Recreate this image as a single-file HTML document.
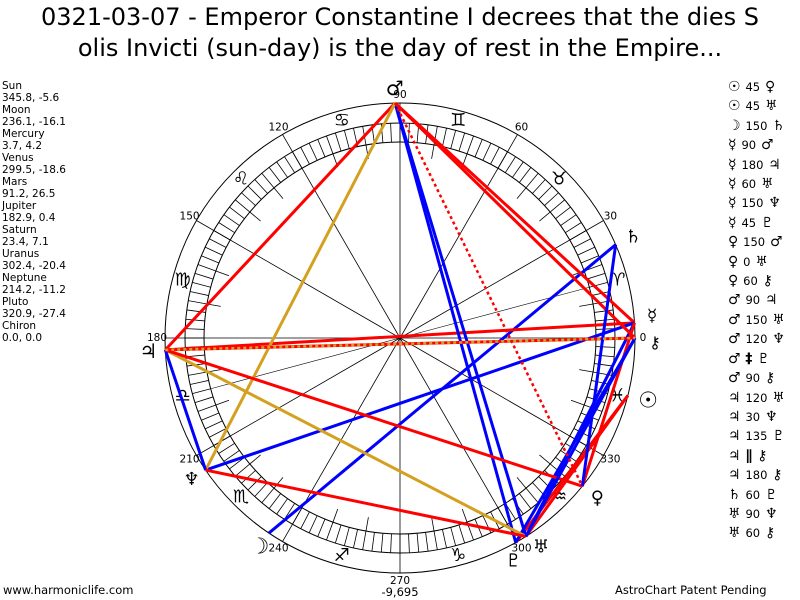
<!DOCTYPE html>
<html><head><meta charset="utf-8"><style>
body{margin:0;width:800px;height:600px;background:#fff;overflow:hidden;font-family:"DejaVu Sans",sans-serif;position:relative}
#t{position:absolute;top:2px;left:0;width:800px;text-align:center;font-size:24px;line-height:31px;color:#000;white-space:nowrap}
#l{position:absolute;left:2px;top:80px;font-size:10.5px;line-height:12px}
#r{position:absolute;left:728px;top:78px;font-size:14px;line-height:19.4px;font-family:"DejaVu Sans",sans-serif;white-space:pre;font-weight:bold}
#r span{font-size:11.5px;font-weight:normal}
.b{position:absolute;top:583px;font-size:11.5px}
</style></head><body>
<div id="t">0321-03-07 - Emperor Constantine I decrees that the dies S<br>olis Invicti (sun-day) is the day of rest in the Empire...</div>
<div id="l">Sun<br>345.8, -5.6<br>Moon<br>236.1, -16.1<br>Mercury<br>3.7, 4.2<br>Venus<br>299.5, -18.6<br>Mars<br>91.2, 26.5<br>Jupiter<br>182.9, 0.4<br>Saturn<br>23.4, 7.1<br>Uranus<br>302.4, -20.4<br>Neptune<br>214.2, -11.2<br>Pluto<br>320.9, -27.4<br>Chiron<br>0.0, 0.0</div>
<div id="r">☉ <span>45</span> ♀
☉ <span>45</span> ♅
☽ <span>150</span> ♄
☿ <span>90</span> ♂
☿ <span>180</span> ♃
☿ <span>60</span> ♅
☿ <span>150</span> ♆
☿ <span>45</span> ♇
♀ <span>150</span> ♂
♀ <span>0</span> ♅
♀ <span>60</span> ⚷
♂ <span>90</span> ♃
♂ <span>150</span> ♅
♂ <span>120</span> ♆
♂ ‡ ♇
♂ <span>90</span> ⚷
♃ <span>120</span> ♅
♃ <span>30</span> ♆
♃ <span>135</span> ♇
♃ ∥ ⚷
♃ <span>180</span> ⚷
♄ <span>60</span> ♇
♅ <span>90</span> ♆
♅ <span>60</span> ⚷</div>
<div class="b" style="left:3px">www.harmoniclife.com</div>
<div class="b" style="left:615px">AstroChart Patent Pending</div>
<svg id="s" width="800" height="600" style="position:absolute;left:0;top:0"></svg>
<script>
var cx=400,cy=338,R=235,h='';
function P(a,r){a=a*Math.PI/180;return [cx+r*Math.cos(a),cy-r*Math.sin(a)];}
function L(a,b,c,w,d){h+='<line x1="'+a[0]+'" y1="'+a[1]+'" x2="'+b[0]+'" y2="'+b[1]+'" stroke="'+c+'" stroke-width="'+w+'"'+(d?' stroke-dasharray="'+d+'"':'')+'/>';}
function T(p,s,fs,f,fw){h+='<text x="'+p[0]+'" y="'+p[1]+'" font-size="'+fs+'" text-anchor="middle" dominant-baseline="central" font-family="'+(f||'DejaVu Sans')+'"'+(fw?' font-weight="bold"':'')+'>'+s+'</text>';}
h+='<circle cx="'+cx+'" cy="'+cy+'" r="235" fill="none" stroke="#000"/><circle cx="'+cx+'" cy="'+cy+'" r="215" fill="none" stroke="#000"/><circle cx="'+cx+'" cy="'+cy+'" r="196" fill="none" stroke="#000"/>';
for(var i=0;i<144;i++)L(P(i*2.5,196),P(i*2.5,215),'#000',0.8);
for(var i=0;i<12;i++){L([cx,cy],P(i*30,235),'#000',0.8);}
for(var i=0;i<36;i++)if(i%3)L(P(i*10,182),P(i*10,196),'#000',0.8);
L([cx,cy],P(15,196),'#000',0.6);L([cx,cy],P(195,196),'#000',0.6);
for(var i=0;i<12;i++)T(P(i*30,243),String(i*30),10.5);
var sg='♈♉♊♋♌♍♎♏♐♑♒♓';for(var i=0;i<12;i++)T(P(15+i*30,225),sg[i],18,0,1);
var pl={Su:345.8,Mo:236.1,Me:3.7,Ve:299.5,Ma:91.2,Ju:182.9,Sa:23.4,Ur:302.4,Ne:214.2,Pl:320.9,Ch:0};
function Q(k){return P(pl[k],235);}
var red='#f00',blue='#00f',gold='#d4a020';
var as=[['Su','Ve',red],['Su','Ur',red],['Mo','Sa',blue],['Me','Ma',red],['Me','Ju',red],['Me','Ur',blue],['Me','Ne',blue],['Me','Pl',red],['Ve','Ma',blue],['Ve','Ch',blue],['Ma','Ju',red],['Ma','Ur',blue],['Ma','Ne',gold],['Ma','Ch',red],['Ju','Ur',gold],['Ju','Ne',blue],['Ju','Pl',red],['Ju','Ch',red],['Sa','Pl',blue],['Ur','Ne',red],['Ur','Ch',blue]];
as.forEach(function(a){L(Q(a[0]),Q(a[1]),a[2],3);});
L(Q('Ma'),Q('Pl'),red,2.5,'3,3');L(Q('Ju'),Q('Ch'),gold,2.5,'3,3');
T(P(345.8,256),'☉',22,0,1);T(P(236.1,252),'☽',22,0,1);T(P(5,253),'☿',17,0,1);T(P(297,250),'♇',18,0,1);T(P(304,252),'♅',18,0,1);
T(P(91.2,250),'♂',20,0,1);T(P(183,252),'♃',20,0,1);T(P(23.4,254),'♄',18,0,1);T(P(214.2,252),'♆',18,0,1);T(P(321,254),'♀',18,0,1);T(P(359,255),'⚷',16,0,1);
T([400,592],'-9,695',11.5);
document.getElementById('s').innerHTML=h;
</script>
</body></html>
